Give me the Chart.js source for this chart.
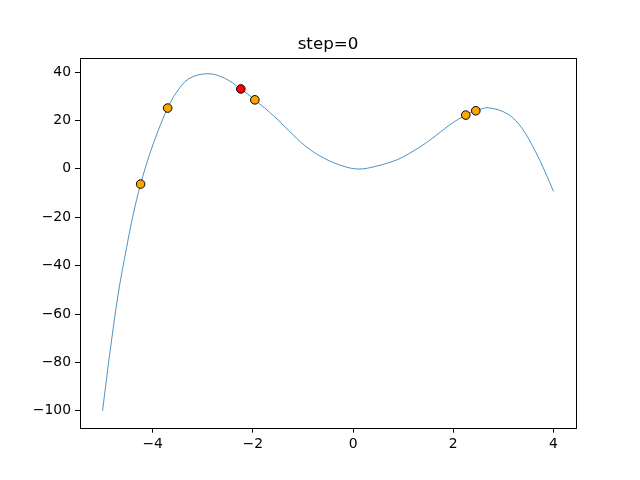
<!DOCTYPE html>
<html>
<head>
<meta charset="utf-8">
<script src="https://cdn.jsdelivr.net/npm/chart.js@4"></script>
<style>
  html, body { margin: 0; padding: 0; background: #fff; }
  #wrap { width: 640px; height: 480px; }
</style>
</head>
<body>
<div id="wrap"><canvas id="chart" width="640" height="480"></canvas></div>
<script>
// curve
var curveX = [-5.00, -4.86, -4.69, -4.52, -4.39, -4.24, -4.06, -3.89, -3.70, -3.53, -3.28, -2.90, -2.57, -2.24, -1.96, -1.57, -0.98, -0.58, -0.18, 0.12, 0.45, 0.78, 0.98, 1.45, 1.98, 2.25, 2.45, 2.71, 3.10, 3.37, 3.64, 3.83, 4.00];
var curveY = [-100, -77, -52, -32.5, -19, -6.3, 6.0, 15.8, 25.1, 31.4, 37.2, 39.3, 37.5, 33.0, 28.5, 21.6, 9.9, 4.4, 1.0, -0.1, 1.0, 3.0, 4.7, 10.6, 18.9, 22.2, 24.0, 25.2, 22.5, 16.8, 7.2, -1.1, -9.3];

// particles
var dotX = [-4.24, -3.70, -1.96, 2.25, 2.45];
var dotY = [-6.3, 25.1, 28.5, 22.2, 24.0];
var bestX = [-2.24];
var bestY = [33.0];

var xTicks = [-4, -2, 0, 2, 4];
var yTicks = [-100, -80, -60, -40, -20, 0, 20, 40];
var titleText = 'step=0';

function pts(xs, ys) { return xs.map((x, i) => ({ x: x, y: ys[i] })); }
function minus(v) { return String(v).replace('-', '\u2212'); }

var frame = {
    id: 'frame',
    afterDraw: function (chart) {
        var a = chart.chartArea, c = chart.ctx;
        c.save();
        c.strokeStyle = '#000';
        c.lineWidth = 1;
        c.strokeRect(Math.round(a.left) + 0.5, Math.round(a.top) + 0.5, Math.round(a.right - a.left), Math.round(a.bottom - a.top));
        c.fillStyle = '#000';
        c.font = '16.7px "DejaVu Sans"';
        c.textAlign = 'center';
        c.textBaseline = 'alphabetic';
        c.fillText(titleText, (a.left + a.right) / 2, a.top - 8.5);
        c.restore();
    }
};

var tickFont = { family: 'DejaVu Sans', size: 13.9 };

new Chart(document.getElementById('chart'), {
    type: 'scatter',
    data: {
        datasets: [
            { data: pts(bestX, bestY), backgroundColor: '#ff0000', borderColor: '#000', borderWidth: 1, pointRadius: 4.3, order: 1 },
            { data: pts(dotX, dotY), backgroundColor: '#ffa500', borderColor: '#000', borderWidth: 1, pointRadius: 4.3, order: 2 },
            { data: pts(curveX, curveY), showLine: true, borderColor: '#1f77b4', borderWidth: 0.8, pointRadius: 0, tension: 0.35, order: 3 }
        ]
    },
    options: {
        responsive: false, animation: false,
        layout: { padding: { left: 0, right: 64, top: 57.6, bottom: 0 } },
        plugins: { legend: { display: false }, tooltip: { enabled: false }, title: { display: false } },
        scales: {
            x: {
                type: 'linear', min: -5.45, max: 4.45,
                afterBuildTicks: s => { s.ticks = xTicks.map(v => ({ value: v })); },
                afterFit: s => { s.height = 52.3; },
                grid: { drawOnChartArea: false, tickLength: 5, color: '#000', tickColor: '#000' },
                border: { display: false },
                ticks: { color: '#000', font: tickFont, padding: 3, maxRotation: 0, callback: v => minus(v) }
            },
            y: {
                type: 'linear', min: -106.95, max: 45.95,
                afterBuildTicks: s => { s.ticks = yTicks.map(v => ({ value: v })); },
                afterFit: s => { s.width = 80; },
                grid: { drawOnChartArea: false, tickLength: 5, color: '#000', tickColor: '#000' },
                border: { display: false },
                ticks: { color: '#000', font: tickFont, padding: 4, callback: v => minus(v) }
            }
        }
    },
    plugins: [frame]
});
</script>
</body>
</html>
